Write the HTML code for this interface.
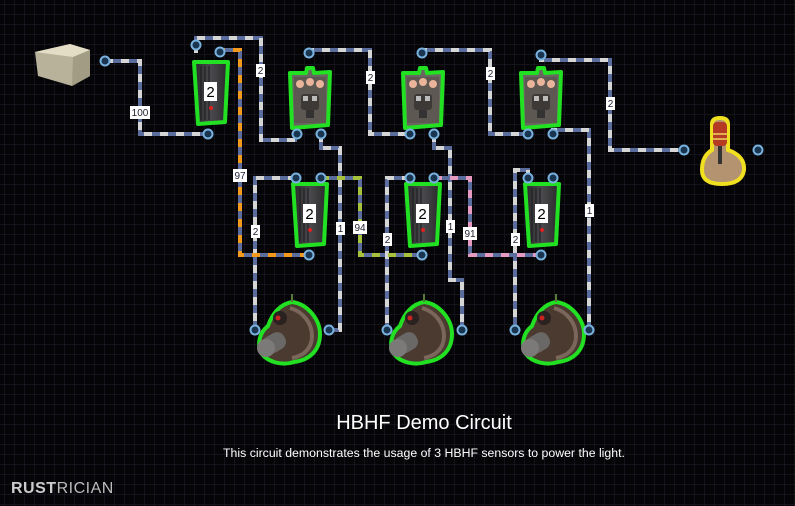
<!DOCTYPE html>
<html><head><meta charset="utf-8"><style>
html,body{margin:0;padding:0;background:#000;}
svg{display:block;}
</style></head><body>
<svg width="795" height="506" viewBox="0 0 795 506" xmlns="http://www.w3.org/2000/svg">
<defs>
<pattern id="grid" width="10" height="10" patternUnits="userSpaceOnUse" x="5" y="5">
<rect width="10" height="10" fill="#050407"/>
<path d="M10 0V10M0 10H10" stroke="#221f2c" stroke-width="1"/>
</pattern>
<linearGradient id="gg" x1="0" x2="1"><stop offset="0" stop-color="#2a2a2c"/><stop offset="0.5" stop-color="#4a4a4e"/><stop offset="1" stop-color="#2a2a2c"/></linearGradient>
<g id="gate">
<path d="M-16,-30 L18,-30 L15,30 L-12,32 Z" fill="url(#gg)" stroke="#22e022" stroke-width="4" stroke-linejoin="round"/>
<path d="M-9,-26V28M-5,-26V28M-1,-26V28" stroke="#1b1b1d" stroke-width="1"/>
<rect x="-6" y="-10" width="13" height="19" fill="#fff"/>
<text x="0.5" y="5" font-family="Liberation Sans, sans-serif" font-size="15" text-anchor="middle" fill="#000">2</text>
<circle cx="1" cy="16" r="2" fill="#d22"/>
</g>
<g id="sens">
<path d="M-20,-25 L-4,-25 L-3,-30 L3,-30 L4,-25 L20,-26 L18,27 L-18,30 Z" fill="#6a6560" stroke="#22e022" stroke-width="4" stroke-linejoin="round"/>
<rect x="-16" y="-21" width="32" height="46" fill="#5d5852"/>
<circle cx="-10" cy="-14" r="4" fill="#e9b49a"/><circle cx="0" cy="-16" r="4" fill="#e9b49a"/><circle cx="10" cy="-14" r="4" fill="#e9b49a"/>
<rect x="-9" y="-4" width="18" height="16" rx="3" fill="#3d3936"/>
<rect x="-7" y="-2" width="5" height="5" fill="#bbb"/><rect x="2" y="-2" width="5" height="5" fill="#bbb"/>
<rect x="-4" y="12" width="8" height="8" fill="#333"/>
</g>
<g id="turret">
<path d="M2,-30 C18,-28 30,-12 30,2 C30,18 20,28 4,30 C-8,34 -22,30 -28,22 C-34,12 -30,0 -22,-6 C-18,-18 -10,-28 2,-30 Z" fill="#4a3a30" stroke="#22e022" stroke-width="4"/>
<path d="M0,-24 C14,-20 22,-8 22,4 C22,16 14,24 2,26" fill="none" stroke="#7a665a" stroke-width="4"/>
<circle cx="-10" cy="-14" r="7" fill="#2a2220"/><circle cx="-12" cy="-14" r="2.5" fill="#c22"/>
<rect x="-28" y="2" width="24" height="18" rx="8" fill="#6a6866" transform="rotate(-30 -16 11)"/>
<circle cx="-24" cy="16" r="9" fill="#7b7a78"/>
<path d="M2,-30V-38" stroke="#5a7a3a" stroke-width="2"/>
</g>
<g id="port"><circle r="4.5" fill="#1a3550" stroke="#79b2de" stroke-width="2"/></g>
</defs>
<rect width="795" height="506" fill="url(#grid)"/>

<g fill="none" stroke-width="4" stroke-linejoin="miter">
<g stroke="#5a6d9c">
<path d="M105,61H140V134H208"/>
<path d="M196,53V38H261V140H297"/>
<path d="M309,53V50H370V134H410"/>
<path d="M321,134V148H340V330H329"/>
<path d="M296,178H255V330"/>
<path d="M422,53V50H490V134H528"/>
<path d="M434,134V148H450V280H462V330"/>
<path d="M410,178H387V330"/>
<path d="M541,55V60H610V150H684"/>
<path d="M553,134V130H589V330"/>
<path d="M528,178V170H515V330"/>
<path d="M220,53V50H240V255H309"/>
<path d="M321,178H360V255H422"/>
<path d="M434,178H470V255H541"/>
</g>
<g stroke="#d6d6d6" stroke-dasharray="8 8">
<path d="M105,61H140V134H208"/>
<path d="M196,53V38H261V140H297"/>
<path d="M309,53V50H370V134H410"/>
<path d="M321,134V148H340V330H329"/>
<path d="M296,178H255V330"/>
<path d="M422,53V50H490V134H528"/>
<path d="M434,134V148H450V280H462V330"/>
<path d="M410,178H387V330"/>
<path d="M541,55V60H610V150H684"/>
<path d="M553,134V130H589V330"/>
<path d="M528,178V170H515V330"/>
<path d="M220,53V50H240V255H309" stroke="#f39a1e"/>
<path d="M321,178H360V255H422" stroke="#a6c23a"/>
<path d="M434,178H470V255H541" stroke="#e79ac0"/>
</g>
</g>

<path d="M35,52 L70,44 L90,50 L90,76 L72,86 L38,76 Z" fill="#b8b29a"/>
<path d="M35,52 L70,44 L90,50 L73,57 Z" fill="#e3ddc6"/>
<path d="M73,57 L90,50 L90,76 L72,86 Z" fill="#a29c84"/>

<use href="#gate" x="210" y="92"/>
<use href="#gate" x="309" y="214"/>
<use href="#gate" x="422" y="214"/>
<use href="#gate" x="541" y="214"/>
<use href="#sens" x="310" y="98"/>
<use href="#sens" x="423" y="98"/>
<use href="#sens" x="541" y="98"/>
<use href="#turret" x="290" y="332"/>
<use href="#turret" x="422" y="332"/>
<use href="#turret" x="554" y="332"/>

<path d="M712,124 Q712,118 720,118 Q728,118 728,124 V150 Q745,156 744,170 Q742,184 722,184 Q702,184 702,170 Q702,156 712,150 Z" fill="#b49470" stroke="#f0e020" stroke-width="4"/>
<rect x="713" y="122" width="14" height="24" rx="4" fill="#b43a24"/>
<path d="M713,134H727M713,139H727" stroke="#e0b050" stroke-width="2"/>
<rect x="718" y="146" width="4" height="18" fill="#333"/>

<g>
<use href="#port" x="105" y="61"/><use href="#port" x="196" y="45"/><use href="#port" x="220" y="52"/><use href="#port" x="208" y="134"/>
<use href="#port" x="309" y="53"/><use href="#port" x="297" y="134"/><use href="#port" x="321" y="134"/>
<use href="#port" x="422" y="53"/><use href="#port" x="410" y="134"/><use href="#port" x="434" y="134"/>
<use href="#port" x="541" y="55"/><use href="#port" x="528" y="134"/><use href="#port" x="553" y="134"/>
<use href="#port" x="296" y="178"/><use href="#port" x="321" y="178"/><use href="#port" x="309" y="255"/>
<use href="#port" x="410" y="178"/><use href="#port" x="434" y="178"/><use href="#port" x="422" y="255"/>
<use href="#port" x="528" y="178"/><use href="#port" x="553" y="178"/><use href="#port" x="541" y="255"/>
<use href="#port" x="255" y="330"/><use href="#port" x="329" y="330"/>
<use href="#port" x="387" y="330"/><use href="#port" x="462" y="330"/>
<use href="#port" x="515" y="330"/><use href="#port" x="589" y="330"/>
<use href="#port" x="684" y="150"/><use href="#port" x="758" y="150"/>
</g>

<g font-family="Liberation Sans, sans-serif" font-size="10" text-anchor="middle" fill="#223">
<rect x="130" y="106" width="20" height="13" fill="#fff"/><text x="140" y="116">100</text>
<rect x="256" y="64" width="9" height="13" fill="#fff"/><text x="260.5" y="74">2</text>
<rect x="366" y="71" width="9" height="13" fill="#fff"/><text x="370.5" y="81">2</text>
<rect x="486" y="67" width="9" height="13" fill="#fff"/><text x="490.5" y="77">2</text>
<rect x="606" y="97" width="9" height="13" fill="#fff"/><text x="610.5" y="107">2</text>
<rect x="233" y="169" width="14" height="13" fill="#fff"/><text x="240" y="179">97</text>
<rect x="251" y="225" width="9" height="13" fill="#fff"/><text x="255.5" y="235">2</text>
<rect x="336" y="222" width="9" height="13" fill="#fff"/><text x="340.5" y="232">1</text>
<rect x="353" y="221" width="14" height="13" fill="#fff"/><text x="360" y="231">94</text>
<rect x="383" y="233" width="9" height="13" fill="#fff"/><text x="387.5" y="243">2</text>
<rect x="446" y="220" width="9" height="13" fill="#fff"/><text x="450.5" y="230">1</text>
<rect x="463" y="227" width="14" height="13" fill="#fff"/><text x="470" y="237">91</text>
<rect x="511" y="233" width="9" height="13" fill="#fff"/><text x="515.5" y="243">2</text>
<rect x="585" y="204" width="9" height="13" fill="#fff"/><text x="589.5" y="214">1</text>
</g>

<text x="424" y="429" font-family="Liberation Sans, sans-serif" font-size="20" text-anchor="middle" fill="#fff">HBHF Demo Circuit</text>
<text x="424" y="457" font-family="Liberation Sans, sans-serif" font-size="12.3" text-anchor="middle" fill="#fff">This circuit demonstrates the usage of 3 HBHF sensors to power the light.</text>
<text x="11" y="493" font-family="Liberation Sans, sans-serif" font-size="16" font-weight="bold" fill="#ccc" letter-spacing="0.5">RUST<tspan font-weight="normal" fill="#bbb">RICIAN</tspan></text>
</svg>
</body></html>
